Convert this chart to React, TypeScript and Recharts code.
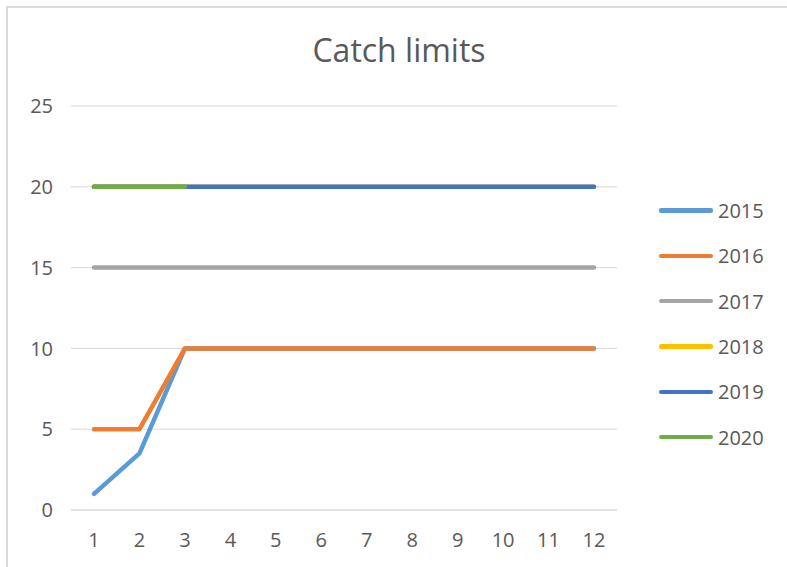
import React from 'react';
import { LineChart, Line, XAxis, YAxis, CartesianGrid, Legend } from 'recharts';

const months = [1, 2, 3, 4, 5, 6, 7, 8, 9, 10, 11, 12];
const s2015 = [1, 3.5, 10, 10, 10, 10, 10, 10, 10, 10, 10, 10];
const s2016 = [5, 5, 10, 10, 10, 10, 10, 10, 10, 10, 10, 10];
const s2017 = [15, 15, 15, 15, 15, 15, 15, 15, 15, 15, 15, 15];
const s2018 = [20, 20, 20, 20, 20, 20, 20, 20, 20, 20, 20, 20];
const s2019 = [20, 20, 20, 20, 20, 20, 20, 20, 20, 20, 20, 20];
const s2020 = [20, 20, 20, null, null, null, null, null, null, null, null, null];
const yTicks = [0, 5, 10, 15, 20, 25];

const series = [
  { key: 'y2015', name: '2015', color: '#5B9BD5', values: s2015 },
  { key: 'y2016', name: '2016', color: '#ED7D31', values: s2016 },
  { key: 'y2017', name: '2017', color: '#A5A5A5', values: s2017 },
  { key: 'y2018', name: '2018', color: '#FFC000', values: s2018 },
  { key: 'y2019', name: '2019', color: '#4472C4', values: s2019 },
  { key: 'y2020', name: '2020', color: '#70AD47', values: s2020 },
];

const data = months.map((m, i) => {
  const row: any = { x: m };
  series.forEach((s) => {
    row[s.key] = s.values[i];
  });
  return row;
});

const FONT = '"Open Sans", "Noto Sans", sans-serif';
const TEXT = '#595959';

const renderLegend = () => (
  <div style={{ fontFamily: FONT }}>
    {series.map((s) => (
      <div key={s.key} style={{ display: 'flex', alignItems: 'center', height: 45.3 }}>
        <div style={{ width: 54, height: 4.5, borderRadius: 2, background: s.color }} />
        <span style={{ marginLeft: 5, fontSize: 20, color: TEXT }}>{s.name}</span>
      </div>
    ))}
  </div>
);

const App: React.FC = () => {
  return (
    <div style={{ position: 'absolute', left: 0, top: 0, width: 787, height: 567, overflow: 'hidden', background: '#fff' }}>
      <div style={{ position: 'absolute', left: 6, top: 6, width: 820, height: 620, border: '2px solid #d9d9d9', boxSizing: 'border-box' }} />
      <div style={{ position: 'absolute', left: 0, top: 28, width: 798, textAlign: 'center', fontFamily: FONT, fontSize: 32, lineHeight: '44px', color: TEXT }}>
        Catch limits
      </div>
      <LineChart width={787} height={567} data={data} margin={{ top: 106, right: 50, bottom: 27, left: 0 }} style={{ position: 'absolute', left: 0, top: 0 }}>
        <CartesianGrid vertical={false} stroke="#d9d9d9" />
        <XAxis
          dataKey="x"
          padding={{ left: 23, right: 23 }}
          tickSize={0}
          tickMargin={23}
          axisLine={{ stroke: '#d9d9d9' }}
          tick={{ fill: TEXT, fontSize: 20, fontFamily: FONT }}
          height={30}
        />
        <YAxis
          domain={[0, 25]}
          ticks={yTicks}
          width={71}
          tickSize={0}
          tickMargin={18}
          axisLine={false}
          tickLine={false}
          tick={{ fill: TEXT, fontSize: 20, fontFamily: FONT }}
        />
        <Legend
          layout="vertical"
          align="right"
          verticalAlign="top"
          content={renderLegend}
          wrapperStyle={{ left: 659, top: 188, width: 120, height: 272 }}
        />
        {series.map((s) => (
          <Line
            key={s.key}
            type="linear"
            dataKey={s.key}
            name={s.name}
            stroke={s.color}
            strokeWidth={4.5}
            strokeLinecap="round"
            strokeLinejoin="round"
            dot={false}
            activeDot={false}
            isAnimationActive={false}
          />
        ))}
      </LineChart>
    </div>
  );
};

export default App;
